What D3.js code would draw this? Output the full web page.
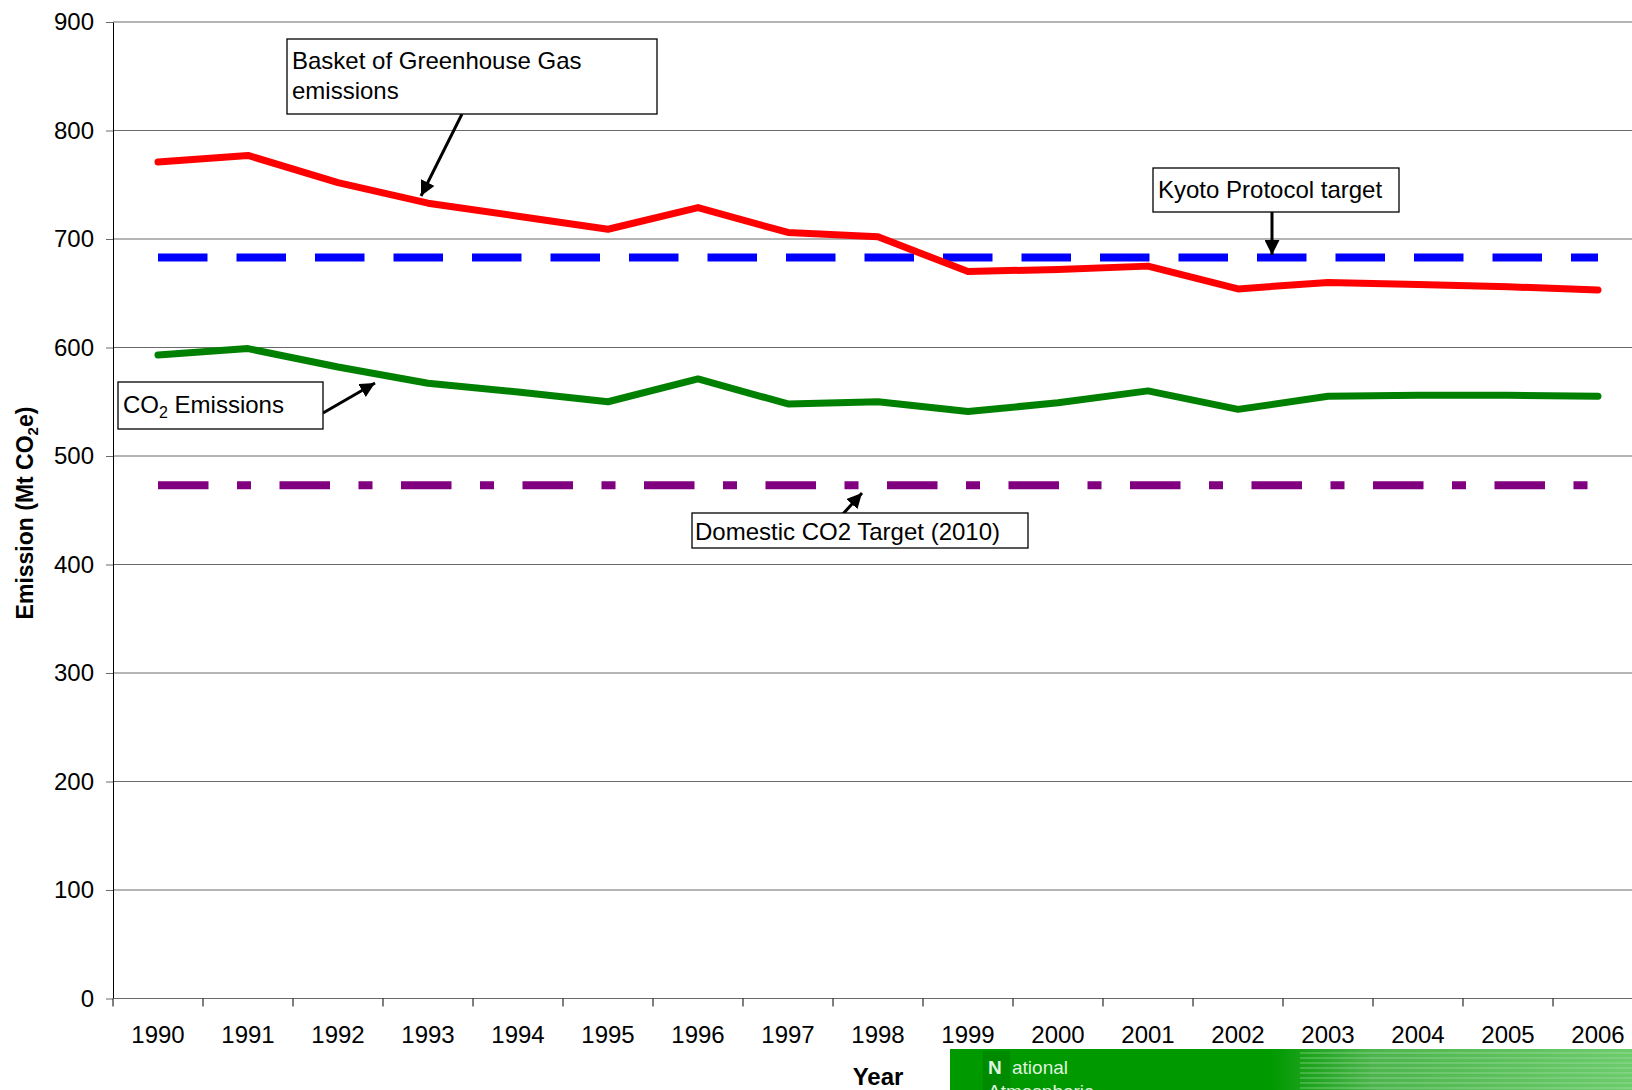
<!DOCTYPE html>
<html>
<head>
<meta charset="utf-8">
<script src="https://cdn.jsdelivr.net/npm/d3@7"></script>
<style>
  body { margin: 0; background: #fff; overflow: hidden; }
  svg { display: block; font-family: "Liberation Sans", Arial, sans-serif; }
</style>
</head>
<body>
<div id="chart"></div>
<script>
// Years along the x axis
const years = ["1990","1991","1992","1993","1994","1995","1996","1997","1998",
  "1999","2000","2001","2002","2003","2004","2005","2006"];

// Basket of greenhouse gases (Mt CO2e)
const basket = [771, 777, 752, 733, 721, 709, 729, 706, 702, 670, 672, 675, 654, 660, 658, 656, 653];

// CO2 only
const co2 = [593, 599, 582, 567, 559, 550, 571, 548, 550, 541, 549, 560, 543, 555, 556, 556, 555];

// Targets
const kyotoTarget = 683;
const domesticTarget = 473;

const yTicks = [0, 100, 200, 300, 400, 500, 600, 700, 800, 900];

const width = 1632, height = 1090;
const margin = { top: 22, left: 113, bottom: 91.5 };
const plotRight = 1643; // plot runs off the right edge in the original

const svg = d3.select("#chart").append("svg")
  .attr("width", width)
  .attr("height", height);

const x = d3.scalePoint().domain(years).range([margin.left, plotRight]).padding(0.5);
const y = d3.scaleLinear().domain([0, 900]).range([height - margin.bottom, margin.top]);

// gridlines
svg.append("g")
  .selectAll("line")
  .data(yTicks.filter(d => d > 0))
  .join("line")
    .attr("x1", margin.left)
    .attr("x2", width)
    .attr("y1", d => y(d))
    .attr("y2", d => y(d))
    .attr("stroke", "#6a6a6a")
    .attr("stroke-width", 1);

// y axis
const yAxis = svg.append("g")
  .attr("transform", `translate(${margin.left},0)`)
  .call(d3.axisLeft(y).tickValues(yTicks).tickSize(7).tickPadding(12).tickSizeOuter(0));
yAxis.select(".domain").attr("stroke", "#000");
yAxis.selectAll(".tick line").attr("stroke", "#6a6a6a");
yAxis.selectAll("text").attr("font-size", 24).attr("font-family", "Liberation Sans, Arial, sans-serif").attr("fill", "#000");

// x axis: ticks sit between categories
const step = x.step();
const xAxisG = svg.append("g").attr("transform", `translate(0,${y(0)})`);
xAxisG.append("line")
  .attr("x1", margin.left).attr("x2", width)
  .attr("stroke", "#6a6a6a");
xAxisG.selectAll(".xt")
  .data(d3.range(years.length + 1))
  .join("line")
    .attr("class", "xt")
    .attr("x1", i => margin.left + i * step)
    .attr("x2", i => margin.left + i * step)
    .attr("y1", 0).attr("y2", 8)
    .attr("stroke", "#000");
xAxisG.selectAll("text")
  .data(years)
  .join("text")
    .attr("x", d => x(d))
    .attr("y", 44)
    .attr("text-anchor", "middle")
    .attr("font-size", 24)
    .text(d => d);

// axis titles
svg.append("text")
  .attr("x", 878).attr("y", 1085)
  .attr("text-anchor", "middle")
  .attr("font-size", 24).attr("font-weight", "bold")
  .text("Year");

const yt = svg.append("text")
  .attr("transform", "translate(33,513) rotate(-90)")
  .attr("text-anchor", "middle")
  .attr("font-size", 23).attr("font-weight", "bold");
yt.append("tspan").text("Emission (Mt CO");
yt.append("tspan").attr("font-size", 15).attr("dy", 5).text("2");
yt.append("tspan").attr("dy", -5).text("e)");

// target lines
const first = x(years[0]), last = x(years[years.length - 1]);
svg.append("line")
  .attr("x1", first).attr("x2", last)
  .attr("y1", y(kyotoTarget)).attr("y2", y(kyotoTarget))
  .attr("stroke", "#0000ff").attr("stroke-width", 8)
  .attr("stroke-dasharray", "49.5,29");

svg.append("line")
  .attr("x1", first).attr("x2", last)
  .attr("y1", y(domesticTarget)).attr("y2", y(domesticTarget))
  .attr("stroke", "#800080").attr("stroke-width", 8)
  .attr("stroke-dasharray", "50.5,28.5,14,28.5");

// emission lines
const line = d3.line().x((d, i) => x(years[i])).y(d => y(d));
svg.append("path")
  .attr("d", line(co2))
  .attr("fill", "none").attr("stroke", "#008000")
  .attr("stroke-width", 7).attr("stroke-linecap", "round").attr("stroke-linejoin", "round");
svg.append("path")
  .attr("d", line(basket))
  .attr("fill", "none").attr("stroke", "#ff0000")
  .attr("stroke-width", 7).attr("stroke-linecap", "round").attr("stroke-linejoin", "round");

// arrow head marker
svg.append("defs").append("marker")
  .attr("id", "arrow")
  .attr("viewBox", "0 0 10 10")
  .attr("refX", 10).attr("refY", 5)
  .attr("markerWidth", 5).attr("markerHeight", 5)
  .attr("markerUnits", "strokeWidth")
  .attr("orient", "auto")
  .append("path").attr("d", "M0,0 L10,5 L0,10 z").attr("fill", "#000");

function arrow(x1, y1, x2, y2) {
  svg.append("line")
    .attr("x1", x1).attr("y1", y1).attr("x2", x2).attr("y2", y2)
    .attr("stroke", "#000").attr("stroke-width", 3)
    .attr("marker-end", "url(#arrow)");
}

function box(x0, y0, w, h) {
  svg.append("rect")
    .attr("x", x0).attr("y", y0).attr("width", w).attr("height", h)
    .attr("fill", "#fff").attr("stroke", "#000").attr("stroke-width", 1.3);
}

// Basket annotation
arrow(462, 114, 421, 196);
box(287, 39, 370, 75);
svg.append("text").attr("x", 292).attr("y", 69).attr("font-size", 24).text("Basket of Greenhouse Gas");
svg.append("text").attr("x", 292).attr("y", 99).attr("font-size", 24).text("emissions");

// Kyoto annotation
arrow(1272, 212, 1272, 255);
box(1153, 168, 246, 44);
svg.append("text").attr("x", 1158).attr("y", 198).attr("font-size", 24).text("Kyoto Protocol target");

// CO2 annotation
arrow(323, 413, 375, 383);
box(118, 382, 205, 47);
const ct = svg.append("text").attr("x", 123).attr("y", 413).attr("font-size", 24);
ct.append("tspan").text("CO");
ct.append("tspan").attr("font-size", 16).attr("dy", 5).text("2");
ct.append("tspan").attr("dy", -5).text(" Emissions");

// Domestic annotation
arrow(842, 515, 862, 493);
box(692, 513, 336, 35);
svg.append("text").attr("x", 695).attr("y", 540).attr("font-size", 24).text("Domestic CO2 Target (2010)");

// logo strip, bottom right
const defs = svg.select("defs");
const grad = defs.append("linearGradient").attr("id", "logo").attr("x1", 0).attr("x2", 1);
grad.append("stop").attr("offset", 0).attr("stop-color", "#009900");
grad.append("stop").attr("offset", 0.47).attr("stop-color", "#009900");
grad.append("stop").attr("offset", 0.62).attr("stop-color", "#4db54d");
grad.append("stop").attr("offset", 1).attr("stop-color", "#6ccc6c");
svg.append("rect")
  .attr("x", 950).attr("y", 1049).attr("width", width - 950).attr("height", height - 1049)
  .attr("fill", "url(#logo)");
svg.append("g")
  .selectAll("line")
  .data(d3.range(1053, 1090, 5))
  .join("line")
    .attr("x1", 1300).attr("x2", width)
    .attr("y1", d => d).attr("y2", d => d)
    .attr("stroke", "#b8e6b8").attr("stroke-opacity", 0.35).attr("stroke-width", 1.5);
svg.append("rect")
  .attr("x", 983).attr("y", 1051).attr("width", 27).attr("height", 39)
  .attr("fill", "#008a00");
svg.append("text").attr("x", 988).attr("y", 1074)
  .attr("font-size", 19).attr("font-weight", "bold").attr("fill", "#dff2df").text("N");
svg.append("text").attr("x", 1012).attr("y", 1074)
  .attr("font-size", 19).attr("fill", "#dff2df").text("ational");
// second line of the logo is cut off by the bottom edge, as in the original
svg.append("text").attr("x", 988).attr("y", 1098)
  .attr("font-size", 19).attr("fill", "#dff2df").text("Atmospheric");
</script>
</body>
</html>
